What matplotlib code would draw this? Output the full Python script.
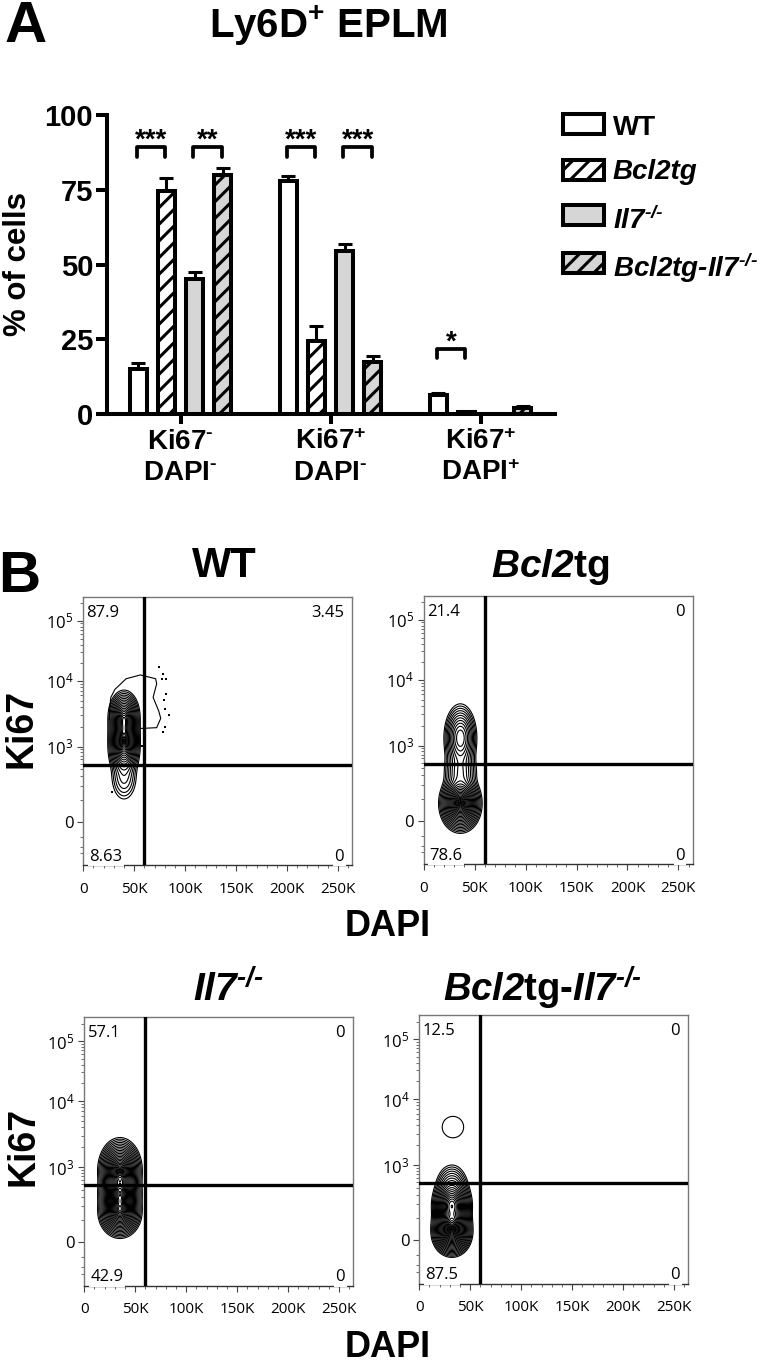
import numpy as np
import matplotlib
matplotlib.use("Agg")
import matplotlib.pyplot as plt
from matplotlib.patches import Rectangle
from matplotlib.transforms import ScaledTranslation

W, H = 762, 1363

plt.rcParams['font.family'] = ['Liberation Sans', 'DejaVu Sans']
plt.rcParams['mathtext.fontset'] = 'custom'
plt.rcParams['mathtext.rm'] = 'Liberation Sans:italic:bold'
plt.rcParams['mathtext.it'] = 'Liberation Sans:italic:bold'
plt.rcParams['mathtext.bf'] = 'Liberation Sans:bold'
plt.rcParams['hatch.linewidth'] = 2.2
plt.rcParams['hatch.color'] = 'black'

HY = '\u2010'

# panel A
groups = ['Ki67$^{\\mathbf{' + HY + '}}$\nDAPI$^{\\mathbf{' + HY + '}}$',
          'Ki67$^{\\mathbf{+}}$\nDAPI$^{\\mathbf{' + HY + '}}$',
          'Ki67$^{\\mathbf{+}}$\nDAPI$^{\\mathbf{+}}$']
KO = '^{\\mathrm{' + HY + '/' + HY + '}}$'
genotypes = ['WT', 'Bcl2tg', 'Il7$' + KO, 'Bcl2tg-Il7$' + KO]
wt_vals = [15.1, 77.9, 6.3]
bcl_vals = [74.6, 24.4, 0.7]
il7_vals = [45.1, 54.5, 0]
dko_vals = [79.8, 17.4, 2.0]
wt_err = [2.1, 1.7, 0.8]
bcl_err = [4.4, 5.1, 0.3]
il7_err = [2.4, 2.5, 0]
dko_err = [2.4, 2.0, 0.8]
bar_fill = ['white', 'white', '#d6d6d6', '#d6d6d6']
bar_hatch = ['', '//', '', '//']

# significance brackets: (group, first bar, stars)
sig_group = [0, 0, 1, 1, 2]
sig_first = [0, 2, 0, 2, 0]
sig_stars = ['***', '**', '***', '***', '*']
sig_top = [89.3, 89.3, 89.3, 89.3, 21.8]

# panel B
x_ticks = [0, 50, 100, 150, 200, 250]
x_labels = ['0', '50K', '100K', '150K', '200K', '250K']
quad_tl = ['87.9', '21.4', '57.1', '12.5']
quad_tr = ['3.45', '0', '0', '0']
quad_bl = ['8.63', '78.6', '42.9', '87.5']
quad_br = ['0', '0', '0', '0']

# density peaks: DAPI (K), height on the Ki67 axis
wt_x, wt_u = [40, 40, 40, 40], [106, 88, 72, 45]
wt_sx, wt_su, wt_w = [5.4, 5.4, 5.4, 5.8], [9, 11, 10, 11], [1.0, 1.0, 0.9, 0.13]
bcl_x, bcl_u = [36, 36, 36, 36], [83, 48, 21, 12]
bcl_sx, bcl_su, bcl_w = [6.2, 7.0, 7.2, 7.2], [13, 12, 9, 9], [0.55, 0.22, 1.0, 0.7]
il7_x, il7_u = [35, 35, 35], [72, 49, 30]
il7_sx, il7_su, il7_w = [7.4, 7.4, 7.4], [11, 9, 9], [1.0, 0.8, 0.9]
dko_x, dko_u = [32, 32, 32, 32], [50, 35, 15, 5]
dko_sx, dko_su, dko_w = [7.0, 7.0, 7.0, 7.0], [11, 9, 9, 8], [0.25, 1.0, 1.0, 0.8]
peaks = [(wt_x, wt_u, wt_sx, wt_su, wt_w), (bcl_x, bcl_u, bcl_sx, bcl_su, bcl_w),
         (il7_x, il7_u, il7_sx, il7_su, il7_w), (dko_x, dko_u, dko_sx, dko_su, dko_w)]
level_count = [20, 24, 24, 26]

# isolated island above the main population in the double mutant
dko_island_x, dko_island_u = 33, 113
dko_island_rx, dko_island_ru = 10.5, 10.7

# stray events and the outer contour lobe in the WT plot
wt_dot_x = [74.6, 77.9, 77.6, 81, 81, 79, 80, 84, 80, 78, 58, 28]
wt_dot_y = [16700, 13200, 10500, 10500, 6300, 5100, 3700, 3050, 2000, 1650, 1020, 150]
wt_lobe_x = [56, 72, 76, 74, 68.5, 72, 71, 56, 42, 31, 27, 26, 25.5]
wt_lobe_y = [1900, 1950, 2700, 3500, 5600, 9000, 10800, 12500, 10800, 7400, 5600, 4000, 2600]

# Ki67 biexponential axis, knots in pixels above the zero tick
ki_knots = [-600, 0, 1000, 10000, 100000, 260000]
ki_u = [-43.3, 0, 75, 141, 201, 225]


def ki_fwd(y):
    return np.interp(np.arcsinh(np.asarray(y, dtype=float) / 100),
                     np.arcsinh(np.array(ki_knots) / 100), ki_u)


def ki_inv(u):
    return 100 * np.sinh(np.interp(u, ki_u, np.arcsinh(np.array(ki_knots) / 100)))


def make_axes(l, t, r, b):
    return fig.add_axes([l / W, 1 - b / H, (r - l) / W, (b - t) / H])


def px_text(x, y, s, **kw):
    kw.setdefault('fontweight', 'bold')
    return fig.text(x / W, 1 - y / H, s, **kw)


fig = plt.figure(figsize=(W / 100, H / 100), dpi=100, facecolor='white')

# ---- A
ax = make_axes(107, 115, 555, 414)
ax.set_xlim((107 - 180.5) / 150, (555 - 180.5) / 150)
ax.set_ylim(0, 100)
step = 28.3 / 150
series = [wt_vals, bcl_vals, il7_vals, dko_vals]
errs = [wt_err, bcl_err, il7_err, dko_err]
xs = np.arange(len(groups))
for j in range(4):
    pos = xs + (j - 1.5) * step
    keep = np.array(series[j]) > 0
    ax.bar(pos[keep], np.array(series[j])[keep], width=17 / 150, color=bar_fill[j], edgecolor='black',
           linewidth=2.9, hatch=bar_hatch[j], zorder=2)
    ax.errorbar(pos[keep], np.array(series[j])[keep], yerr=[np.zeros(keep.sum()), np.array(errs[j])[keep]],
                fmt='none', ecolor='black', elinewidth=2.2, capsize=5, capthick=2.2, zorder=1)
for g, f, s, top in zip(sig_group, sig_first, sig_stars, sig_top):
    x0 = g + (f - 1.5) * step - 0.008
    x1 = x0 + step
    ax.plot([x0, x0, x1, x1], [top - 3.2, top, top, top - 3.2], color='black', lw=2.7,
            solid_capstyle='round', solid_joinstyle='round', clip_on=False)
    ax.text((x0 + x1) / 2, top - 2.2, s, ha='center', va='bottom', fontsize=20, fontweight='bold')
for side in ['top', 'right']:
    ax.spines[side].set_visible(False)
for side in ['left', 'bottom']:
    ax.spines[side].set_linewidth(2.9)
ax.set_yticks([0, 25, 50, 75, 100])
ax.set_yticklabels(['0', '25', '50', '75', '100'], fontsize=21, fontweight='bold')
ax.set_xticks(xs)
ax.set_xticklabels(groups, fontsize=20, fontweight='bold', linespacing=1.25)
for lbl, shift in zip(ax.get_xticklabels(), [4, 7, 8]):
    lbl.set_transform(lbl.get_transform() + ScaledTranslation(shift / 100, 0, fig.dpi_scale_trans))
ax.tick_params(axis='y', length=8, width=2.9, pad=2)
ax.tick_params(axis='x', length=7.5, width=2.9, pad=3)
ax.set_ylabel('% of cells', fontsize=22.5, fontweight='bold', labelpad=8)
ax.patch.set_alpha(0)

# legend rows
row_top = [114, 160, 205, 253]
row_base = [135, 179, 229, 277]
for j, (top, base) in enumerate(zip(row_top, row_base)):
    fig.add_artist(Rectangle((563 / W, 1 - (top + 20) / H), 41 / W, 20 / H, transform=fig.transFigure,
                             facecolor=bar_fill[j], edgecolor='black', linewidth=2.9, hatch=bar_hatch[j]))
    px_text(613, base, genotypes[j], fontsize=20, fontstyle='normal' if j == 0 else 'italic')

px_text(26, 42, 'A', fontsize=42, ha='center')
px_text(328, 38, 'Ly6D$^{\\mathbf{+}}$ EPLM', fontsize=29, ha='center')
px_text(19, 592, 'B', fontsize=42, ha='center')

# ---- B
boxes = [(83.3, 596.7), (423.7, 595.7), (84.3, 1017), (419.3, 1015)]
xk = np.linspace(0, 264, 530)
uk = np.linspace(-43, 225, 540)
for p, (l, t) in enumerate(boxes):
    a = make_axes(l, t, l + 269, t + 268.5)
    px_, pu_, sx_, su_, w_ = peaks[p]
    gx, gu = np.meshgrid(xk, uk)
    dens = np.zeros_like(gx)
    for cx, cu, sx, su, w in zip(px_, pu_, sx_, su_, w_):
        dens += w * np.exp(-0.5 * ((gx - cx) / sx) ** 2 - 0.5 * ((gu - cu) / su) ** 2)
    a.set_yscale('function', functions=(ki_fwd, ki_inv))
    # rings evenly spaced outside, packed together towards the core
    t_lev = np.linspace(1, 0.06, level_count[p])
    levels = np.sort(dens.max() * np.exp(np.log(0.012) * t_lev ** 2.5))
    a.contour(gx, ki_inv(gu), dens, levels=levels, colors='black', linewidths=0.8, zorder=2)
    if p == 0:
        a.plot(wt_lobe_x, wt_lobe_y, color='black', lw=0.8, zorder=2)
        a.scatter(wt_dot_x, wt_dot_y, s=3.5, color='black', marker='s', linewidths=0, zorder=2)
    if p == 3:
        island = np.exp(-0.5 * ((gx - dko_island_x) / dko_island_rx) ** 2 - 0.5 * ((gu - dko_island_u) / dko_island_ru) ** 2)
        a.contour(gx, ki_inv(gu), island, levels=[np.exp(-0.5)], colors='black', linewidths=0.8, zorder=2)
    a.axvline(60, color='black', lw=2.4, zorder=3)
    a.axhline(480, color='black', lw=2.4, zorder=3)
    a.set_xlim(0, 264)
    a.set_ylim(-600, 260000)
    a.set_xticks(x_ticks)
    a.set_xticklabels(x_labels, fontsize=11, family='Open Sans')
    a.set_xticks(np.arange(0, 264, 10), minor=True)
    a.set_yticks([0, 1000, 10000, 100000])
    a.set_yticklabels(['0', '$\\mathregular{10^{3}}$', '$\\mathregular{10^{4}}$', '$\\mathregular{10^{5}}$'],
                      fontsize=12, family='Open Sans')
    minor_y = [-300, -200, -100, 100, 200, 300, 400, 500, 600, 700, 800, 900]
    for dec in [1000, 10000]:
        minor_y += [dec * k for k in range(2, 10)]
    minor_y += [2e5]
    a.set_yticks(minor_y, minor=True)
    a.yaxis.set_minor_formatter(plt.NullFormatter())
    a.tick_params(axis='x', which='major', length=4, width=0.8, color='#444444', pad=8)
    a.tick_params(axis='y', which='major', length=4, width=0.8, color='#444444', pad=3)
    a.tick_params(axis='both', which='minor', length=2, width=0.6, color='#555555')
    for side in a.spines:
        a.spines[side].set_color('#777777')
        a.spines[side].set_linewidth(1.0)
    a.spines['bottom'].set_color('#333333')
    box = dict(facecolor='white', edgecolor='none', pad=1.0)
    a.text(0.012, 0.94, quad_tl[p], transform=a.transAxes, fontsize=12, family='Open Sans', ha='left', va='center', zorder=5)
    a.text(0.97, 0.94, quad_tr[p], transform=a.transAxes, fontsize=12, family='Open Sans', ha='right', va='center', zorder=5)
    a.text(0.022, 0.03, quad_bl[p], transform=a.transAxes, fontsize=12, family='Open Sans', ha='left', va='center', zorder=5, bbox=box)
    a.text(0.97, 0.03, quad_br[p], transform=a.transAxes, fontsize=12, family='Open Sans', ha='right', va='center', zorder=5, bbox=box)

px_text(224, 577, 'WT', fontsize=30, ha='center')
px_text(550, 577, '$\\mathit{Bcl2}$tg', fontsize=28, ha='center')
px_text(228, 1002, 'Il7$' + KO, fontsize=28, ha='center', fontstyle='italic')
px_text(543, 1002, '$\\mathit{Bcl2}$tg-$\\mathit{Il7}' + KO, fontsize=27.5, ha='center')
px_text(388, 936, 'DAPI', fontsize=26, ha='center')
px_text(388, 1357, 'DAPI', fontsize=26, ha='center')
px_text(22, 728, 'Ki67', fontsize=27, ha='center', va='center', rotation=90)
px_text(24, 1146, 'Ki67', fontsize=27, ha='center', va='center', rotation=90)

fig.savefig('out.png', dpi=100)
